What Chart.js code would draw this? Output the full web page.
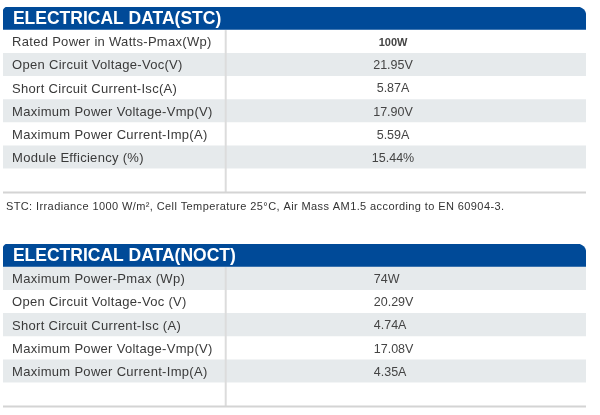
<!DOCTYPE html>
<html>
<head>
<meta charset="utf-8">
<script src="https://cdn.jsdelivr.net/npm/chart.js@4.4.1/dist/chart.umd.min.js"></script>
<style>
    html, body { margin: 0; padding: 0; background: #ffffff; }
    #wrap { width: 600px; height: 415px; position: relative; }
    canvas { display: block; }
</style>
</head>
<body>
<div id="wrap">
    <canvas id="stcChart" width="600" height="232"></canvas>
    <canvas id="noctChart" width="600" height="183"></canvas>
</div>
<script>
// Table contents
const stcTitle = 'ELECTRICAL DATA(STC)';
const stcLabels = ['Rated Power in Watts-Pmax(Wp)', 'Open Circuit Voltage-Voc(V)', 'Short Circuit Current-Isc(A)',
    'Maximum Power Voltage-Vmp(V)', 'Maximum Power Current-Imp(A)', 'Module Efficiency (%)', ''];
const stcValues = ['100W', '21.95V', '5.87A', '17.90V', '5.59A', '15.44%', ''];
const stcNote = 'STC: Irradiance 1000 W/m², Cell Temperature 25°C, Air Mass AM1.5 according to EN 60904-3.';

const noctTitle = 'ELECTRICAL DATA(NOCT)';
const noctLabels = ['Maximum Power-Pmax (Wp)', 'Open Circuit Voltage-Voc (V)', 'Short Circuit Current-Isc (A)',
    'Maximum Power Voltage-Vmp(V)', 'Maximum Power Current-Imp(A)', ''];
const noctValues = ['74W', '20.29V', '4.74A', '17.08V', '4.35A', ''];

// Colours
const headerBlue = '#004a98';
const stripeGray = '#e6eaec';
const lineGray = '#d4d4d4';
const textDark = '#3a3a3a';

// Horizontal split of the table (fraction of the width)
const splitAt = 0.382;

function makeTable(canvasId, title, labels, values, opts) {
    // first category is the header row
    const rows = ['header'].concat(labels.map((l, i) => 'row' + i));
    const colors = rows.map((r, i) => {
        if (i === 0) return headerBlue;
        return ((i + opts.stripeOffset) % 2 === 0) ? stripeGray : '#ffffff';
    });

    const tablePlugin = {
        id: 'tableText',
        afterDatasetsDraw(chart) {
            const c = chart.ctx;
            const x = chart.scales.x;
            const y = chart.scales.y;
            c.save();

            // vertical divider and bottom rule
            const firstRowTop = (y.getPixelForValue(0) + y.getPixelForValue(1)) / 2;
            c.strokeStyle = '#dcdcdc';
            c.lineWidth = 2;
            c.beginPath();
            c.moveTo(x.getPixelForValue(splitAt), firstRowTop);
            c.lineTo(x.getPixelForValue(splitAt), y.bottom);
            c.stroke();
            c.strokeStyle = lineGray;
            c.beginPath();
            c.moveTo(x.left, y.bottom + 0.5);
            c.lineTo(x.right, y.bottom + 0.5);
            c.stroke();

            // header title
            c.fillStyle = '#ffffff';
            c.font = 'bold 17.5px "Liberation Sans", Arial, sans-serif';
            c.textBaseline = 'middle';
            c.textAlign = 'left';
            c.fillText(title, x.getPixelForValue(0.017), y.getPixelForValue(0) + 1);

            // rows
            labels.forEach((lab, i) => {
                const yc = y.getPixelForValue(i + 1) + 1;
                c.fillStyle = textDark;
                c.font = '13px "Liberation Sans", Arial, sans-serif';
                c.letterSpacing = '0.3px';
                c.textAlign = 'left';
                c.fillText(lab, x.getPixelForValue(0.0155), yc);
                c.letterSpacing = '0px';
                c.font = (i === 0 && opts.boldFirst ? 'bold 11px ' : '12.5px ') + '"Liberation Sans", Arial, sans-serif';
                c.fillStyle = '#444444';
                c.textAlign = opts.valueAlign;
                c.fillText(values[i], x.getPixelForValue(opts.valueAt), yc);
            });

            // footnote under the table
            if (opts.note) {
                c.fillStyle = '#333333';
                c.font = '11px "Liberation Sans", Arial, sans-serif';
                c.letterSpacing = '0.4px';
                c.textAlign = 'left';
                c.fillText(opts.note, x.getPixelForValue(0.005), y.bottom + 15);
                c.letterSpacing = '0px';
            }
            c.restore();
        }
    };

    return new Chart(document.getElementById(canvasId), {
        type: 'bar',
        data: {
            labels: rows,
            datasets: [{
                data: rows.map(() => [0, 1]),
                backgroundColor: colors,
                borderSkipped: false,
                borderRadius: (ctx) => ctx.dataIndex === 0
                    ? { topLeft: 5, topRight: 9, bottomLeft: 0, bottomRight: 0 }
                    : 0,
                barPercentage: 1,
                categoryPercentage: 1
            }]
        },
        options: {
            indexAxis: 'y',
            responsive: false,
            animation: false,
            events: [],
            layout: { padding: opts.padding },
            plugins: {
                legend: { display: false },
                tooltip: { enabled: false }
            },
            scales: {
                x: { type: 'linear', min: 0, max: 1, display: false },
                y: { display: false }
            }
        },
        plugins: [tablePlugin]
    });
}

makeTable('stcChart', stcTitle, stcLabels, stcValues, {
    stripeOffset: 0,
    boldFirst: true,
    valueAlign: 'center',
    valueAt: 0.669,
    note: stcNote,
    padding: { top: 7, bottom: 40, left: 3, right: 14 }
});

makeTable('noctChart', noctTitle, noctLabels, noctValues, {
    stripeOffset: 1,
    boldFirst: false,
    valueAlign: 'left',
    valueAt: 0.636,
    note: null,
    padding: { top: 12, bottom: 9, left: 3, right: 14 }
});
</script>
</body>
</html>
